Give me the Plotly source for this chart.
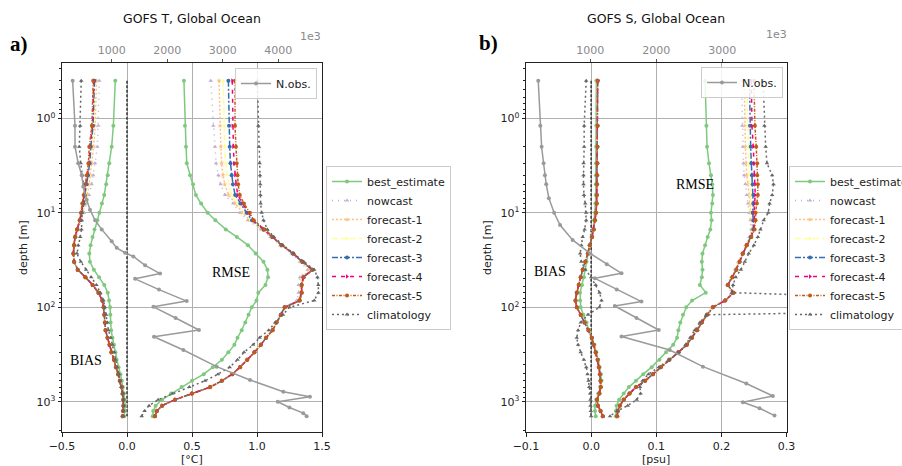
import plotly.graph_objects as go

W, H = 902, 466

# ---------------------------------------------------------------- data
depth = [0.4, 1.2, 2.0, 3.0, 4.0, 5.0, 6.5, 8, 10, 12, 15, 18, 22, 27, 33, 40, 48, 58, 70, 85,
         100, 120, 145, 175, 210, 250, 300, 360, 430, 510, 600, 700, 820, 950, 1100, 1250, 1420]

series = ["best_estimate", "nowcast", "forecast-1", "forecast-2",
          "forecast-3", "forecast-4", "forecast-5", "climatology"]

# Temperature bias [degC]
t_bias_best = [-0.090, -0.105, -0.118, -0.136, -0.148, -0.160, -0.175, -0.193, -0.213, -0.228, -0.250, -0.265, -0.280, -0.290, -0.285, -0.255, -0.215, -0.175, -0.148, -0.138, -0.130, -0.128, -0.126, -0.122, -0.112, -0.100, -0.090, -0.080, -0.065, -0.050, -0.040, -0.032, -0.023, -0.017, -0.015, -0.018, -0.022]
t_bias_now = [-0.213, -0.220, -0.228, -0.246, -0.260, -0.272, -0.292, -0.312, -0.332, -0.350, -0.375, -0.392, -0.403, -0.410, -0.405, -0.376, -0.316, -0.262, -0.217, -0.188, -0.178, -0.173, -0.168, -0.163, -0.148, -0.133, -0.118, -0.099, -0.084, -0.067, -0.054, -0.040, -0.033, -0.028, -0.027, -0.030, -0.032]
t_bias_f1 = [-0.235, -0.245, -0.257, -0.270, -0.281, -0.292, -0.307, -0.322, -0.340, -0.356, -0.378, -0.395, -0.405, -0.411, -0.406, -0.378, -0.318, -0.263, -0.218, -0.189, -0.179, -0.174, -0.169, -0.164, -0.149, -0.134, -0.119, -0.100, -0.085, -0.068, -0.055, -0.040, -0.033, -0.028, -0.027, -0.030, -0.033]
t_bias_f2 = [-0.245, -0.255, -0.270, -0.280, -0.291, -0.301, -0.318, -0.331, -0.347, -0.360, -0.382, -0.398, -0.406, -0.412, -0.407, -0.379, -0.319, -0.264, -0.219, -0.190, -0.180, -0.175, -0.170, -0.165, -0.150, -0.135, -0.120, -0.100, -0.085, -0.068, -0.055, -0.040, -0.033, -0.028, -0.027, -0.030, -0.033]
t_bias_f3 = [-0.250, -0.261, -0.278, -0.287, -0.300, -0.310, -0.325, -0.338, -0.350, -0.362, -0.383, -0.399, -0.407, -0.412, -0.407, -0.379, -0.320, -0.265, -0.220, -0.190, -0.180, -0.175, -0.170, -0.165, -0.150, -0.135, -0.120, -0.100, -0.085, -0.068, -0.055, -0.040, -0.033, -0.028, -0.027, -0.030, -0.033]
t_bias_f4 = [-0.255, -0.266, -0.285, -0.292, -0.305, -0.315, -0.330, -0.341, -0.352, -0.363, -0.384, -0.400, -0.408, -0.413, -0.408, -0.380, -0.320, -0.265, -0.220, -0.190, -0.180, -0.175, -0.170, -0.165, -0.150, -0.135, -0.120, -0.100, -0.085, -0.068, -0.055, -0.040, -0.033, -0.028, -0.027, -0.030, -0.033]
t_bias_f5 = [-0.260, -0.270, -0.290, -0.297, -0.310, -0.320, -0.333, -0.344, -0.354, -0.364, -0.385, -0.400, -0.408, -0.413, -0.408, -0.380, -0.320, -0.265, -0.220, -0.190, -0.180, -0.175, -0.170, -0.165, -0.150, -0.135, -0.120, -0.100, -0.085, -0.068, -0.055, -0.040, -0.033, -0.028, -0.027, -0.030, -0.033]
t_bias_clim = [-0.352, -0.360, -0.367, -0.356, -0.342, -0.330, -0.323, -0.330, -0.345, -0.348, -0.350, -0.360, -0.375, -0.385, -0.355, -0.315, -0.275, -0.235, -0.205, -0.180, -0.170, -0.160, -0.150, -0.143, -0.125, -0.112, -0.098, -0.088, -0.075, -0.062, -0.054, -0.045, -0.035, -0.028, -0.027, -0.028, -0.028]

# Temperature RMSE [degC]
t_rmse_best = [0.438, 0.446, 0.454, 0.460, 0.485, 0.508, 0.530, 0.570, 0.620, 0.680, 0.760, 0.845, 0.930, 0.990, 1.050, 1.080, 1.085, 1.065, 1.010, 0.996, 0.960, 0.935, 0.910, 0.882, 0.850, 0.826, 0.780, 0.730, 0.660, 0.590, 0.500, 0.420, 0.340, 0.270, 0.220, 0.202, 0.198]
t_rmse_now = [0.644, 0.664, 0.677, 0.685, 0.703, 0.720, 0.754, 0.818, 0.870, 0.930, 1.030, 1.105, 1.180, 1.265, 1.330, 1.390, 1.330, 1.320, 1.320, 1.305, 1.205, 1.178, 1.145, 1.116, 1.066, 1.027, 0.978, 0.923, 0.868, 0.808, 0.728, 0.638, 0.498, 0.368, 0.268, 0.229, 0.214]
t_rmse_f1 = [0.708, 0.715, 0.722, 0.728, 0.738, 0.752, 0.782, 0.835, 0.890, 0.945, 1.040, 1.112, 1.185, 1.272, 1.340, 1.410, 1.345, 1.335, 1.335, 1.318, 1.210, 1.182, 1.148, 1.118, 1.068, 1.029, 0.979, 0.924, 0.869, 0.809, 0.729, 0.639, 0.499, 0.369, 0.269, 0.230, 0.215]
t_rmse_f2 = [0.740, 0.745, 0.752, 0.760, 0.770, 0.782, 0.803, 0.852, 0.905, 0.955, 1.045, 1.115, 1.187, 1.275, 1.345, 1.420, 1.352, 1.340, 1.340, 1.322, 1.212, 1.183, 1.149, 1.119, 1.069, 1.030, 0.980, 0.925, 0.870, 0.810, 0.730, 0.640, 0.500, 0.370, 0.270, 0.230, 0.215]
t_rmse_f3 = [0.780, 0.785, 0.790, 0.796, 0.805, 0.815, 0.832, 0.872, 0.920, 0.962, 1.050, 1.117, 1.188, 1.277, 1.347, 1.425, 1.356, 1.342, 1.342, 1.326, 1.213, 1.184, 1.150, 1.120, 1.070, 1.030, 0.980, 0.925, 0.870, 0.810, 0.730, 0.640, 0.500, 0.370, 0.270, 0.230, 0.215]
t_rmse_f4 = [0.810, 0.812, 0.818, 0.824, 0.832, 0.840, 0.852, 0.888, 0.936, 0.969, 1.055, 1.119, 1.189, 1.279, 1.349, 1.428, 1.358, 1.344, 1.344, 1.328, 1.214, 1.185, 1.150, 1.120, 1.070, 1.030, 0.980, 0.925, 0.870, 0.810, 0.730, 0.640, 0.500, 0.370, 0.270, 0.230, 0.215]
t_rmse_f5 = [0.831, 0.831, 0.838, 0.844, 0.850, 0.855, 0.868, 0.900, 0.945, 0.975, 1.060, 1.120, 1.190, 1.280, 1.350, 1.430, 1.360, 1.345, 1.345, 1.330, 1.215, 1.185, 1.150, 1.120, 1.070, 1.030, 0.980, 0.925, 0.870, 0.810, 0.730, 0.640, 0.500, 0.370, 0.270, 0.230, 0.215]
t_rmse_clim = [1.003, 1.010, 1.015, 1.020, 1.023, 1.025, 1.026, 1.028, 1.036, 1.050, 1.080, 1.130, 1.200, 1.280, 1.360, 1.440, 1.465, 1.472, 1.472, 1.440, 1.250, 1.200, 1.140, 1.090, 1.020, 0.970, 0.900, 0.850, 0.790, 0.700, 0.600, 0.480, 0.350, 0.240, 0.170, 0.135, 0.113]

# Salinity bias [psu]
s_bias_best = [0.0080, 0.0080, 0.0078, 0.0076, 0.0074, 0.0072, 0.0070, 0.0066, 0.0060, 0.0045, 0.0030, 0.0005, -0.0020, -0.0040, -0.0070, -0.0090, -0.0110, -0.0140, -0.0170, -0.0170, -0.0160, -0.0120, -0.0070, -0.0030, 0.0010, 0.0050, 0.0080, 0.0110, 0.0130, 0.0150, 0.0160, 0.0140, 0.0110, 0.0080, 0.0060, 0.0060, 0.0070]
s_bias_now = [0.0095, 0.0094, 0.0093, 0.0091, 0.0089, 0.0087, 0.0085, 0.0082, 0.0074, 0.0058, 0.0038, 0.0013, -0.0021, -0.0051, -0.0090, -0.0129, -0.0159, -0.0189, -0.0219, -0.0238, -0.0219, -0.0159, -0.0099, -0.0040, 0.0010, 0.0040, 0.0070, 0.0100, 0.0120, 0.0135, 0.0145, 0.0148, 0.0127, 0.0090, 0.0105, 0.0145, 0.0178]
s_bias_f1 = [0.0097, 0.0096, 0.0094, 0.0092, 0.0090, 0.0088, 0.0086, 0.0083, 0.0075, 0.0059, 0.0039, 0.0014, -0.0020, -0.0050, -0.0090, -0.0129, -0.0160, -0.0190, -0.0220, -0.0239, -0.0220, -0.0160, -0.0100, -0.0040, 0.0010, 0.0040, 0.0070, 0.0100, 0.0120, 0.0135, 0.0145, 0.0148, 0.0127, 0.0090, 0.0105, 0.0145, 0.0179]
s_bias_f2 = [0.0099, 0.0097, 0.0095, 0.0093, 0.0091, 0.0089, 0.0087, 0.0084, 0.0075, 0.0059, 0.0039, 0.0014, -0.0020, -0.0050, -0.0090, -0.0130, -0.0160, -0.0190, -0.0220, -0.0240, -0.0220, -0.0160, -0.0100, -0.0040, 0.0010, 0.0040, 0.0070, 0.0100, 0.0120, 0.0135, 0.0145, 0.0148, 0.0127, 0.0090, 0.0105, 0.0145, 0.0180]
s_bias_f3 = [0.0100, 0.0098, 0.0096, 0.0094, 0.0091, 0.0089, 0.0087, 0.0084, 0.0076, 0.0060, 0.0040, 0.0015, -0.0020, -0.0050, -0.0090, -0.0130, -0.0160, -0.0190, -0.0220, -0.0240, -0.0220, -0.0160, -0.0100, -0.0040, 0.0010, 0.0040, 0.0070, 0.0100, 0.0120, 0.0135, 0.0145, 0.0148, 0.0127, 0.0090, 0.0105, 0.0145, 0.0180]
s_bias_f4 = [0.0101, 0.0099, 0.0097, 0.0095, 0.0092, 0.0090, 0.0088, 0.0085, 0.0076, 0.0060, 0.0040, 0.0015, -0.0020, -0.0050, -0.0090, -0.0130, -0.0160, -0.0190, -0.0220, -0.0240, -0.0220, -0.0160, -0.0100, -0.0040, 0.0010, 0.0040, 0.0070, 0.0100, 0.0120, 0.0135, 0.0145, 0.0148, 0.0127, 0.0090, 0.0105, 0.0145, 0.0180]
s_bias_f5 = [0.0102, 0.0100, 0.0098, 0.0095, 0.0092, 0.0090, 0.0088, 0.0085, 0.0076, 0.0060, 0.0040, 0.0015, -0.0020, -0.0050, -0.0090, -0.0130, -0.0160, -0.0190, -0.0220, -0.0240, -0.0220, -0.0160, -0.0100, -0.0040, 0.0010, 0.0040, 0.0070, 0.0100, 0.0120, 0.0135, 0.0145, 0.0148, 0.0127, 0.0090, 0.0105, 0.0145, 0.0180]
s_bias_clim = [-0.0076, -0.0107, -0.0107, -0.0117, -0.0117, -0.0117, -0.0110, -0.0090, -0.0076, -0.0076, -0.0100, -0.0130, -0.0150, -0.0168, -0.0150, -0.0090, 0.0000, 0.0070, 0.0130, 0.0160, 0.0127, -0.0050, -0.0160, -0.0200, -0.0220, -0.0200, -0.0160, -0.0110, -0.0075, -0.0055, -0.0040, -0.0030, -0.0015, -0.0010, -0.0010, -0.0005, 0.0000]

# Salinity RMSE [psu]
s_rmse_best = [0.175, 0.177, 0.178, 0.181, 0.184, 0.186, 0.187, 0.186, 0.184, 0.185, 0.183, 0.179, 0.175, 0.171, 0.170, 0.171, 0.170, 0.167, 0.176, 0.155, 0.146, 0.141, 0.137, 0.134, 0.132, 0.126, 0.115, 0.105, 0.093, 0.080, 0.069, 0.058, 0.050, 0.043, 0.039, 0.038, 0.038]
s_rmse_now = [0.231, 0.232, 0.233, 0.234, 0.235, 0.237, 0.239, 0.241, 0.243, 0.245, 0.246, 0.243, 0.237, 0.231, 0.226, 0.221, 0.215, 0.208, 0.216, 0.204, 0.185, 0.177, 0.169, 0.162, 0.154, 0.146, 0.133, 0.119, 0.106, 0.094, 0.082, 0.068, 0.058, 0.049, 0.043, 0.040, 0.039]
s_rmse_f1 = [0.235, 0.236, 0.237, 0.238, 0.239, 0.241, 0.243, 0.244, 0.245, 0.247, 0.247, 0.244, 0.238, 0.232, 0.227, 0.222, 0.216, 0.209, 0.217, 0.205, 0.186, 0.177, 0.169, 0.162, 0.154, 0.146, 0.133, 0.120, 0.107, 0.095, 0.083, 0.069, 0.059, 0.050, 0.044, 0.041, 0.040]
s_rmse_f2 = [0.239, 0.240, 0.241, 0.242, 0.243, 0.244, 0.245, 0.246, 0.247, 0.248, 0.248, 0.245, 0.238, 0.232, 0.227, 0.222, 0.216, 0.209, 0.218, 0.205, 0.186, 0.178, 0.170, 0.163, 0.155, 0.147, 0.134, 0.120, 0.107, 0.095, 0.083, 0.069, 0.059, 0.050, 0.044, 0.041, 0.040]
s_rmse_f3 = [0.243, 0.244, 0.245, 0.246, 0.247, 0.248, 0.249, 0.249, 0.248, 0.249, 0.249, 0.245, 0.239, 0.233, 0.228, 0.223, 0.217, 0.210, 0.218, 0.206, 0.187, 0.178, 0.170, 0.163, 0.155, 0.147, 0.134, 0.120, 0.107, 0.095, 0.083, 0.069, 0.059, 0.050, 0.044, 0.041, 0.040]
s_rmse_f4 = [0.246, 0.247, 0.249, 0.250, 0.251, 0.252, 0.252, 0.251, 0.250, 0.251, 0.250, 0.246, 0.239, 0.233, 0.228, 0.223, 0.217, 0.210, 0.219, 0.206, 0.187, 0.178, 0.170, 0.163, 0.155, 0.147, 0.134, 0.120, 0.107, 0.095, 0.083, 0.069, 0.059, 0.050, 0.044, 0.041, 0.040]
s_rmse_f5 = [0.250, 0.2515, 0.2535, 0.255, 0.255, 0.256, 0.256, 0.2545, 0.2525, 0.2525, 0.251, 0.246, 0.239, 0.233, 0.228, 0.223, 0.217, 0.210, 0.219, 0.206, 0.187, 0.178, 0.170, 0.163, 0.155, 0.147, 0.134, 0.120, 0.107, 0.095, 0.083, 0.069, 0.059, 0.050, 0.044, 0.041, 0.040]
s_rmse_clim = [0.264, 0.266, 0.268, 0.270, 0.278, 0.280, 0.278, 0.274, 0.272, 0.265, 0.260, 0.256, 0.250, 0.242, 0.236, 0.230, 0.222, 0.218, 0.216, 0.600, 0.900, 0.177, 0.167, 0.159, 0.152, 0.145, 0.135, 0.120, 0.104, 0.088, 0.079, 0.075, 0.076, 0.070, 0.056, 0.040, 0.029]

# Number of observations per depth
t_nobs_depth = [0.4, 1.2, 2, 3, 4, 5.3, 7.3, 9.3, 12, 15, 20, 23.5, 26.5, 29, 36, 44, 50, 65, 86, 99,
                130, 174, 205, 283, 425, 588, 782, 883, 1000, 1150, 1320, 1420]
t_nobs = [295, 337, 337, 396, 458, 486, 548, 607, 700, 818, 998, 1088, 1238, 1388, 1600, 1870, 1420, 1850, 2350, 1750,
          2150, 2570, 1760, 2290, 2890, 3490, 4090, 4570, 3990, 4200, 4450, 4510]
s_nobs_depth = [0.4, 1.2, 2, 3, 4, 5, 7, 10, 13.5, 19.4, 27, 35, 43.7, 49.4, 65, 87, 97, 130, 174, 204,
                283, 425, 640, 870, 1010, 1170, 1400]
s_nobs = [209, 240, 260, 290, 310, 330, 370, 450, 540, 730, 1000, 1250, 1473, 1068, 1400, 1776, 1371, 1700, 2038, 1473,
          2205, 2709, 3367, 3770, 3315, 3568, 3795]

t_bias = [t_bias_best, t_bias_now, t_bias_f1, t_bias_f2, t_bias_f3, t_bias_f4, t_bias_f5, t_bias_clim]
t_rmse = [t_rmse_best, t_rmse_now, t_rmse_f1, t_rmse_f2, t_rmse_f3, t_rmse_f4, t_rmse_f5, t_rmse_clim]
s_bias = [s_bias_best, s_bias_now, s_bias_f1, s_bias_f2, s_bias_f3, s_bias_f4, s_bias_f5, s_bias_clim]
s_rmse = [s_rmse_best, s_rmse_now, s_rmse_f1, s_rmse_f2, s_rmse_f3, s_rmse_f4, s_rmse_f5, s_rmse_clim]

t_ticks = [-0.5, 0.0, 0.5, 1.0, 1.5]
s_ticks = [-0.1, 0.0, 0.1, 0.2, 0.3]
t_nobs_ticks = [1000, 2000, 3000, 4000]
s_nobs_ticks = [1000, 2000, 3000]
depth_ticks = [1, 10, 100, 1000]

# ---------------------------------------------------------------- styles
styles = {
    "best_estimate": dict(color="#7fc97f", dash="solid", symbol="circle"),
    "nowcast": dict(color="#beaed4", dash="1px,5px", symbol="triangle-up"),
    "forecast-1": dict(color="#fdc086", dash="2px,2px", symbol="star"),
    "forecast-2": dict(color="#ffff99", dash="6px,3px", symbol="triangle-up"),
    "forecast-3": dict(color="#386cb0", dash="6px,2px,2px,2px", symbol="circle"),
    "forecast-4": dict(color="#f0027f", dash="4px,5px", symbol="triangle-right"),
    "forecast-5": dict(color="#bf5b17", dash="3px,1.5px,1px,1.5px", symbol="circle"),
    "climatology": dict(color="#666666", dash="2px,3px", symbol="triangle-up"),
}
FONT = "DejaVu Sans"
NOBS_COLOR = "#9a9a9a"
GRID = "#b0b0b0"
AXLINE = "#222222"


def px(x):
    return x / W


def py(y):
    return 1 - y / H


fig = go.Figure()


def add_panel(bias, rmse, nobs_x, nobs_y, xa, ya, xtop, leg_obs, leg_main, tag):
    # zero reference
    fig.add_trace(go.Scatter(x=[0, 0], y=[depth[0], depth[-1]], xaxis=xa, yaxis=ya, mode="lines",
                             line=dict(color="#333333", width=1.5, dash="3px,1.5px"),
                             showlegend=False, hoverinfo="skip"))
    for name, b, r in zip(series, bias, rmse):
        st = styles[name]
        kw = dict(mode="lines+markers", name=name, legendgroup=tag + name, legend=leg_main,
                  line=dict(color=st["color"], width=1.5, dash=st["dash"]),
                  marker=dict(symbol=st["symbol"], size=4, color=st["color"]),
                  xaxis=xa, yaxis=ya)
        fig.add_trace(go.Scatter(x=b, y=depth, showlegend=True, **kw))
        fig.add_trace(go.Scatter(x=r, y=depth, showlegend=False, **kw))
    fig.add_trace(go.Scatter(x=nobs_x, y=nobs_y, xaxis=xtop, yaxis=ya, mode="lines+markers",
                             name="N.obs.", legend=leg_obs,
                             line=dict(color=NOBS_COLOR, width=1.5),
                             marker=dict(size=4, color=NOBS_COLOR)))


add_panel(t_bias, t_rmse, t_nobs, t_nobs_depth, "x", "y", "x3", "legend", "legend2", "T")
add_panel(s_bias, s_rmse, s_nobs, s_nobs_depth, "x2", "y2", "x4", "legend3", "legend4", "S")

minor_vals = [m * 10 ** k for k in range(-1, 4) for m in range(2, 10)]
ydom = [py(432), py(63)]


def minus(v, fmt):
    return (fmt % v).replace("-", "\u2212")


def xbottom(dom, rng, ticks, fmt, anchor):
    return dict(domain=dom, range=rng, anchor=anchor, tickmode="array", tickvals=ticks,
                ticktext=[minus(t, fmt) for t in ticks], ticks="outside", ticklen=3.5,
                tickcolor=AXLINE, showgrid=True, gridcolor=GRID, gridwidth=1, zeroline=False,
                showline=True, linecolor=AXLINE, linewidth=1, mirror=True,
                tickfont=dict(family=FONT, size=11, color="#222222"))


def xtop(over, rng, ticks, anchor):
    return dict(overlaying=over, side="top", anchor=anchor, range=rng, tickmode="array",
                tickvals=ticks, ticktext=[str(t) for t in ticks], ticks="outside", ticklen=3.5,
                tickcolor="#555555", showgrid=False, zeroline=False, showline=False,
                tickfont=dict(family=FONT, size=11, color="#8a8a8a"))


def yaxis(anchor):
    return dict(domain=ydom, type="log", range=[3.32, -0.585], anchor=anchor, tickmode="array",
                tickvals=depth_ticks, ticktext=["10<sup>%d</sup>" % i for i in range(4)],
                ticks="outside", ticklen=3.5, tickcolor=AXLINE,
                minor=dict(tickmode="array", tickvals=minor_vals, ticks="outside", ticklen=2,
                           tickcolor=AXLINE, showgrid=False),
                showgrid=True, gridcolor=GRID, gridwidth=1, zeroline=False,
                showline=True, linecolor=AXLINE, linewidth=1, mirror=True,
                tickfont=dict(family=FONT, size=11, color="#222222"))


legend_common = dict(bgcolor="rgba(255,255,255,0.85)", bordercolor="#cccccc", borderwidth=1,
                     font=dict(family=FONT, size=11, color="#222222"), traceorder="normal",
                     itemwidth=30, tracegroupgap=0)

fig.update_layout(
    width=W, height=H, paper_bgcolor="white", plot_bgcolor="white",
    margin=dict(l=0, r=0, t=0, b=0, autoexpand=False),
    font=dict(family=FONT, size=11, color="#222222"),
    xaxis=xbottom([px(62), px(322)], [-0.5, 1.5], t_ticks, "%.1f", "y"),
    xaxis2=xbottom([px(526), px(786.5)], [-0.1, 0.3], s_ticks, "%.1f", "y2"),
    xaxis3=xtop("x", [103, 4787], t_nobs_ticks, "y"),
    xaxis4=xtop("x2", [23, 3977], s_nobs_ticks, "y2"),
    yaxis=yaxis("x"),
    yaxis2=yaxis("x2"),
    legend=dict(x=px(317), xanchor="right", y=py(68), yanchor="top", **legend_common),
    legend2=dict(x=px(326), xanchor="left", y=py(248), yanchor="middle", **legend_common),
    legend3=dict(x=px(783), xanchor="right", y=py(67), yanchor="top", **legend_common),
    legend4=dict(x=px(789), xanchor="left", y=py(248), yanchor="middle", **legend_common),
    showlegend=True,
)

serif = "Liberation Serif"
notes = [
    dict(text="GOFS T, Global Ocean", x=192, y=18, size=12.5, family=FONT, color="#111111"),
    dict(text="GOFS S, Global Ocean", x=656, y=18, size=12.5, family=FONT, color="#111111"),
    dict(text="<b>a)</b>", x=19, y=44, size=21, family=serif, color="#000000"),
    dict(text="<b>b)</b>", x=488, y=43, size=21, family=serif, color="#000000"),
    dict(text="1e3", x=310, y=36, size=11, family=FONT, color="#8a8a8a"),
    dict(text="1e3", x=776, y=35, size=11, family=FONT, color="#8a8a8a"),
    dict(text="BIAS", x=86, y=360, size=14, family=serif, color="#000000"),
    dict(text="RMSE", x=231, y=272, size=14, family=serif, color="#000000"),
    dict(text="BIAS", x=550, y=271, size=14, family=serif, color="#000000"),
    dict(text="RMSE", x=695, y=184, size=14, family=serif, color="#000000"),
    dict(text="[\u00b0C]", x=192, y=459, size=11, family=FONT, color="#222222"),
    dict(text="[psu]", x=656, y=459, size=11, family=FONT, color="#222222"),
]
for n in notes:
    fig.add_annotation(text=n["text"], x=px(n["x"]), y=py(n["y"]), xref="paper", yref="paper",
                       showarrow=False, xanchor="center", yanchor="middle",
                       font=dict(family=n["family"], size=n["size"], color=n["color"]))
for xx in (23, 487):
    fig.add_annotation(text="depth [m]", x=px(xx), y=py(248), xref="paper", yref="paper",
                       showarrow=False, textangle=-90, xanchor="center", yanchor="middle",
                       font=dict(family=FONT, size=11, color="#222222"))

fig.write_html("out.html")
